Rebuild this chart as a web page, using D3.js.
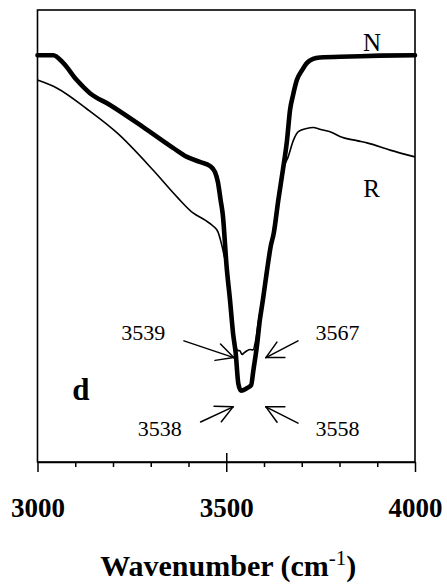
<!DOCTYPE html>
<html>
<head>
<meta charset="utf-8">
<script src="https://cdn.jsdelivr.net/npm/d3@7"></script>
<style>
  html, body { margin: 0; padding: 0; background: #fff; }
  svg { display: block; font-family: "Liberation Serif", "Times New Roman", serif; }
</style>
</head>
<body>
<svg id="chart" width="447" height="584"></svg>
<script>
// ---- data (wavenumber cm^-1, transmittance a.u.) ----
const nWave = [3000, 3042, 3068, 3104, 3139, 3192, 3280, 3359, 3396, 3430, 3457, 3470, 3478, 3485, 3491, 3501, 3510, 3518, 3525, 3532, 3539, 3554, 3566, 3572, 3581, 3589, 3597, 3607, 3618, 3626, 3638, 3650, 3661, 3669, 3677, 3687, 3701, 3714, 3730, 3748, 3828, 3907, 4000];
const nValue = [90.0, 90.0, 88.3, 84.5, 81.6, 79.0, 74.1, 69.5, 67.5, 66.4, 65.5, 64.2, 61.9, 58.0, 54.6, 43.2, 35.8, 28.5, 24.1, 17.3, 15.8, 16.3, 17.0, 20.4, 25.5, 31.4, 35.8, 41.8, 47.8, 50.7, 58.0, 64.6, 71.2, 77.9, 81.2, 84.5, 86.7, 88.3, 89.2, 89.5, 89.7, 89.9, 90.0];

const rWave = [3000, 3052, 3131, 3211, 3306, 3370, 3412, 3444, 3465, 3478, 3486, 3494, 3501, 3509, 3517, 3523, 3530, 3536, 3542, 3548, 3555, 3563, 3571, 3577, 3585, 3595, 3604, 3615, 3624, 3634, 3645, 3654, 3664, 3678, 3691, 3713, 3730, 3748, 3783, 3801, 3846, 3873, 3934, 4000];
const rValue = [84.5, 82.7, 78.1, 72.8, 64.6, 58.6, 55.1, 53.5, 52.2, 50.9, 48.7, 45.8, 42.9, 37.6, 31.4, 26.5, 24.7, 24.6, 23.8, 24.2, 24.6, 24.9, 24.8, 26.5, 31.0, 35.8, 41.4, 46.9, 50.9, 56.9, 62.4, 65.5, 67.5, 71.2, 73.1, 73.8, 74.0, 73.6, 72.8, 72.0, 71.1, 70.6, 69.0, 67.5];

const tickValues = [3000, 3100, 3200, 3300, 3400, 3500, 3600, 3700, 3800, 3900, 4000];
const tickLabels = ["3000", "3500", "4000"];
const xTitle = "Wavenumber (cm";
const xTitleSup = "-1";

const seriesNames = ["N", "R"];
const seriesLabelWave = [3886, 3885];
const seriesLabelValue = [90.9, 58.6];

const panelLabel = "d";
const panelLabelWave = 3115;
const panelLabelValue = 13.7;

const annoText = ["3539", "3567", "3538", "3558"];
const annoTipWave = [3520, 3605, 3518, 3605];
const annoTipValue = [23.1, 23.1, 12.2, 12.2];
const annoTailWave = [3388, 3690, 3432, 3690];
const annoTailValue = [26.8, 26.8, 8.85, 8.6];
const annoLabelWave = [3280, 3795, 3324, 3795];
const annoLabelValue = [27.0, 27.0, 5.75, 5.75];

// ---- layout ----
const svg = d3.select("#chart");
const mLeft = 37.5, mRight = 415, mTop = 10, mBottom = 462;
const x = d3.scaleLinear().domain([3000, 4000]).range([mLeft, mRight]);
const y = d3.scaleLinear().domain([0, 100]).range([mBottom, mTop]);
const serif = "'Liberation Serif', 'Times New Roman', serif";

// frame
svg.append("rect")
  .attr("x", mLeft).attr("y", mTop)
  .attr("width", mRight - mLeft).attr("height", mBottom - mTop)
  .attr("fill", "none").attr("stroke", "#000").attr("stroke-width", 1.6);

// axis
const axis = d3.axisBottom(x)
  .tickValues(tickValues)
  .tickSizeInner(5).tickSizeOuter(0)
  .tickFormat(d => tickLabels.includes(String(d)) ? String(d) : "");
const gAxis = svg.append("g").attr("transform", `translate(0,${mBottom})`).call(axis)
  .attr("font-family", serif);
gAxis.select(".domain").attr("stroke-width", 1.6);
gAxis.selectAll(".tick line").attr("stroke-width", 1.5)
  .attr("y1", d => d === 3500 ? -9 : 0)
  .attr("y2", d => (d === 3000 || d === 3500 || d === 4000) ? 10 : 5);
gAxis.selectAll(".tick text")
  .attr("y", 55).attr("dy", 0)
  .attr("font-family", serif)
  .attr("font-size", 27).attr("font-weight", "bold").attr("fill", "#000");

// x title
const title = svg.append("text")
  .attr("x", (mLeft + mRight) / 2 + 2).attr("y", 576)
  .attr("text-anchor", "middle").attr("font-family", serif)
  .attr("font-size", 30).attr("font-weight", "bold");
title.append("tspan").text(xTitle);
title.append("tspan").attr("dy", -11).attr("font-size", 21).attr("font-weight", "normal").text(xTitleSup);
title.append("tspan").attr("dy", 11).text(")");

// curves
const line = d3.line().x(d => x(d[0])).y(d => y(d[1])).curve(d3.curveMonotoneX);
svg.append("path")
  .datum(d3.zip(rWave, rValue))
  .attr("d", line).attr("fill", "none").attr("stroke", "#000")
  .attr("stroke-width", 1.6).attr("stroke-linejoin", "round");
svg.append("path")
  .datum(d3.zip(nWave, nValue))
  .attr("d", line).attr("fill", "none").attr("stroke", "#000")
  .attr("stroke-width", 4.6).attr("stroke-linejoin", "round").attr("stroke-linecap", "round");

// series labels
seriesNames.forEach((s, i) => {
  svg.append("text")
    .attr("x", x(seriesLabelWave[i])).attr("y", y(seriesLabelValue[i]))
    .attr("text-anchor", "middle").attr("font-family", serif).attr("font-size", 25).text(s);
});

// panel label
svg.append("text")
  .attr("x", x(panelLabelWave)).attr("y", y(panelLabelValue))
  .attr("text-anchor", "middle").attr("font-family", serif).attr("font-size", 31).attr("font-weight", "bold")
  .text(panelLabel);

// annotations with open arrows
const barb = 19, half = 27 * Math.PI / 180;
annoText.forEach((t, i) => {
  const tx = x(annoTipWave[i]), ty = y(annoTipValue[i]);
  const sx = x(annoTailWave[i]), sy = y(annoTailValue[i]);
  const ang = Math.atan2(sy - ty, sx - tx);
  const g = svg.append("g").attr("stroke", "#000").attr("stroke-width", 1.5).attr("fill", "none").attr("stroke-linecap", "round");
  g.append("line").attr("x1", sx).attr("y1", sy).attr("x2", tx).attr("y2", ty);
  [ang - half, ang + half].forEach(a => {
    g.append("line").attr("x1", tx).attr("y1", ty)
      .attr("x2", tx + barb * Math.cos(a)).attr("y2", ty + barb * Math.sin(a));
  });
  svg.append("text")
    .attr("x", x(annoLabelWave[i])).attr("y", y(annoLabelValue[i]))
    .attr("text-anchor", "middle").attr("font-family", serif).attr("font-size", 22).text(t);
});
</script>
</body>
</html>
